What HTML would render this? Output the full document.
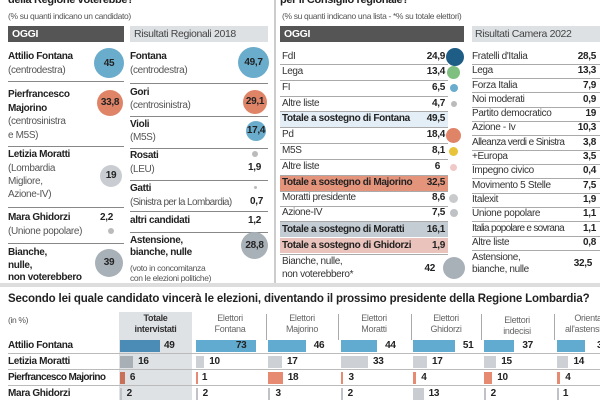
<!DOCTYPE html><html><head><meta charset="utf-8"><style>
*{margin:0;padding:0;box-sizing:border-box}
body{width:600px;height:400px;background:#fff;position:relative;overflow:hidden;font-family:"Liberation Sans",sans-serif;color:#333}
div{position:absolute;white-space:nowrap}
.t{font-size:10px;line-height:12px;letter-spacing:-0.35px}
.b{font-weight:bold;color:#222}
.g{color:#555}
.l{height:1px;background:#888}
.c{border-radius:50%}
.n{font-size:10px;font-weight:bold;color:#222;line-height:12px;letter-spacing:-0.3px}
.hl{font-size:9px;color:#666;text-align:center;line-height:11px;letter-spacing:-0.3px}
.rl{height:1px;background:#aaa}
</style></head><body>
<div class="t b" style="left:8px;top:-6px;font-size:11px">della Regione voterebbe?</div>
<div class="t g" style="left:8px;top:10px;font-size:8.5px">(% su quanti indicano un candidato)</div>
<div class="t b" style="left:280px;top:-6px;font-size:11px">per il Consiglio regionale?</div>
<div class="t g" style="left:282px;top:10px;font-size:8.5px">(% su quanti indicano una lista - *% su totale elettori)</div>
<div style="left:274px;top:0;width:2px;height:285px;background:#ccc"></div>
<div style="left:0;top:283px;width:600px;height:4px;background:#ddd"></div>

<div style="left:8px;top:26px;width:116px;height:16px;background:#555"></div>
<div class="t b" style="left:12px;top:28px;color:#fff;font-size:10.5px">OGGI</div>
<div style="left:130px;top:26px;width:138px;height:16px;background:#dde1e4"></div>
<div class="t" style="left:134px;top:28px;font-size:10.5px;color:#444">Risultati Regionali 2018</div>

<div class="t b" style="left:8px;top:51px">Attilio Fontana</div>
<div class="t g" style="left:8px;top:65px">(centrodestra)</div>
<div class="c" style="left:94px;top:48px;width:30px;height:30px;background:#6aaccc"></div>
<div class="n" style="left:94px;top:58px;width:30px;text-align:center">45</div>
<div class="l" style="left:8px;top:81px;width:116px"></div>
<div class="t b" style="left:8px;top:89px">Pierfrancesco</div>
<div class="t b" style="left:8px;top:103px">Majorino</div>
<div class="t g" style="left:8px;top:116px">(centrosinistra</div>
<div class="t g" style="left:8px;top:130px">e M5S)</div>
<div class="c" style="left:97px;top:90px;width:26px;height:26px;background:#e08468"></div>
<div class="n" style="left:97px;top:97px;width:26px;text-align:center">33,8</div>
<div class="l" style="left:8px;top:146px;width:116px"></div>
<div class="t b" style="left:8px;top:149px">Letizia Moratti</div>
<div class="t g" style="left:8px;top:163px">(Lombardia</div>
<div class="t g" style="left:8px;top:176px">Migliore,</div>
<div class="t g" style="left:8px;top:189px">Azione-IV)</div>
<div class="c" style="left:100px;top:165px;width:22px;height:22px;background:#c9cdd1"></div>
<div class="n" style="left:100px;top:170px;width:22px;text-align:center">19</div>
<div class="l" style="left:8px;top:207px;width:116px"></div>
<div class="t b" style="left:8px;top:212px">Mara Ghidorzi</div>
<div class="t g" style="left:8px;top:226px">(Unione popolare)</div>
<div class="n" style="left:100px;top:212px">2,2</div>
<div class="c" style="left:108px;top:228px;width:6px;height:6px;background:#bbb"></div>
<div class="l" style="left:8px;top:243px;width:116px"></div>
<div class="t b" style="left:8px;top:247px">Bianche,</div>
<div class="t b" style="left:8px;top:260px">nulle,</div>
<div class="t b" style="left:8px;top:272px">non voterebbero</div>
<div class="c" style="left:95px;top:249px;width:28px;height:28px;background:#a8b0b8"></div>
<div class="n" style="left:95px;top:257px;width:28px;text-align:center">39</div>

<div class="t b" style="left:130px;top:51px">Fontana</div>
<div class="t g" style="left:130px;top:65px">(centrodestra)</div>
<div class="c" style="left:238px;top:47px;width:31px;height:31px;background:#6aaccc"></div>
<div class="n" style="left:238px;top:57px;width:31px;text-align:center">49,7</div>
<div class="l" style="left:130px;top:83px;width:138px"></div>
<div class="t b" style="left:130px;top:87px">Gori</div>
<div class="t g" style="left:130px;top:100px">(centrosinistra)</div>
<div class="c" style="left:243px;top:90px;width:24px;height:24px;background:#e08468"></div>
<div class="n" style="left:243px;top:96px;width:24px;text-align:center">29,1</div>
<div class="l" style="left:130px;top:116px;width:138px"></div>
<div class="t b" style="left:130px;top:119px">Violi</div>
<div class="t g" style="left:130px;top:132px">(M5S)</div>
<div class="c" style="left:246px;top:121px;width:20px;height:20px;background:#6aaccc"></div>
<div class="n" style="left:244px;top:125px;width:24px;text-align:center">17,4</div>
<div class="l" style="left:130px;top:148px;width:138px"></div>
<div class="t b" style="left:130px;top:150px">Rosati</div>
<div class="t g" style="left:130px;top:164px">(LEU)</div>
<div class="c" style="left:252px;top:151px;width:6px;height:6px;background:#bbb"></div>
<div class="n" style="left:248px;top:162px">1,9</div>
<div class="l" style="left:130px;top:180px;width:138px"></div>
<div class="t b" style="left:130px;top:183px">Gatti</div>
<div class="t g" style="left:130px;top:197px;letter-spacing:-0.6px">(Sinistra per la Lombardia)</div>
<div class="c" style="left:254px;top:186px;width:3px;height:3px;background:#bbb"></div>
<div class="n" style="left:250px;top:196px">0,7</div>
<div class="l" style="left:130px;top:211px;width:138px"></div>
<div class="t b" style="left:130px;top:215px">altri candidati</div>
<div class="n" style="left:248px;top:215px">1,2</div>
<div class="l" style="left:130px;top:232px;width:138px"></div>
<div class="t b" style="left:130px;top:235px">Astensione,</div>
<div class="t b" style="left:130px;top:247px">bianche, nulle</div>
<div class="t g" style="left:130px;top:262px;font-size:8.5px">(voto in concomitanza</div>
<div class="t g" style="left:130px;top:272px;font-size:8.5px">con le elezioni politiche)</div>
<div class="c" style="left:241px;top:232px;width:27px;height:27px;background:#a8b0b8"></div>
<div class="n" style="left:241px;top:240px;width:27px;text-align:center">28,8</div>

<div style="left:280px;top:26px;width:184px;height:16px;background:#555"></div>
<div class="t b" style="left:284px;top:28px;color:#fff;font-size:10.5px">OGGI</div>
<div style="left:472px;top:26px;width:128px;height:16px;background:#dde1e4"></div>
<div class="t" style="left:475px;top:28px;font-size:10.5px;color:#444">Risultati Camera 2022</div>

<div style="left:280px;top:112px;width:168px;height:15px;background:#e3eef6"></div>
<div style="left:280px;top:176px;width:168px;height:15px;background:#e5947c"></div>
<div style="left:280px;top:222px;width:168px;height:15px;background:#c4cdd4"></div>
<div style="left:280px;top:238px;width:168px;height:15px;background:#e9c3bc"></div>
<div class="t" style="left:282px;top:51px">FdI</div><div class="n" style="left:410px;top:51px;width:35px;text-align:right">24,9</div>
<div class="t" style="left:282px;top:66px">Lega</div><div class="n" style="left:410px;top:66px;width:35px;text-align:right">13,4</div>
<div class="t" style="left:282px;top:82px">FI</div><div class="n" style="left:410px;top:82px;width:35px;text-align:right">6,5</div>
<div class="t" style="left:282px;top:98px">Altre liste</div><div class="n" style="left:410px;top:98px;width:35px;text-align:right">4,7</div>
<div class="t b" style="left:282px;top:113px">Totale a sostegno di Fontana</div><div class="n" style="left:410px;top:113px;width:35px;text-align:right">49,5</div>
<div class="t" style="left:282px;top:129px">Pd</div><div class="n" style="left:410px;top:129px;width:35px;text-align:right">18,4</div>
<div class="t" style="left:282px;top:145px">M5S</div><div class="n" style="left:410px;top:145px;width:35px;text-align:right">8,1</div>
<div class="t" style="left:282px;top:161px">Altre liste</div><div class="n" style="left:410px;top:161px;width:30px;text-align:right">6</div>
<div class="t b" style="left:282px;top:177px">Totale a sostegno di Majorino</div><div class="n" style="left:410px;top:177px;width:35px;text-align:right">32,5</div>
<div class="t" style="left:282px;top:192px">Moratti presidente</div><div class="n" style="left:410px;top:192px;width:35px;text-align:right">8,6</div>
<div class="t" style="left:282px;top:207px">Azione-IV</div><div class="n" style="left:410px;top:207px;width:35px;text-align:right">7,5</div>
<div class="t b" style="left:282px;top:224px">Totale a sostegno di Moratti</div><div class="n" style="left:410px;top:224px;width:35px;text-align:right">16,1</div>
<div class="t b" style="left:282px;top:240px">Totale a sostegno di Ghidorzi</div><div class="n" style="left:410px;top:240px;width:35px;text-align:right">1,9</div>
<div class="t" style="left:282px;top:256px">Bianche, nulle,</div>
<div class="t" style="left:282px;top:269px">non voterebbero*</div>
<div class="n" style="left:400px;top:263px;width:35px;text-align:right">42</div>
<div class="rl" style="left:280px;top:64px;width:168px"></div>
<div class="rl" style="left:280px;top:80px;width:168px"></div>
<div class="rl" style="left:280px;top:96px;width:168px"></div>
<div class="rl" style="left:280px;top:111px;width:168px"></div>
<div class="rl" style="left:280px;top:127px;width:168px"></div>
<div class="rl" style="left:280px;top:143px;width:168px"></div>
<div class="rl" style="left:280px;top:159px;width:168px"></div>
<div class="rl" style="left:280px;top:175px;width:168px"></div>
<div class="rl" style="left:280px;top:191px;width:168px"></div>
<div class="rl" style="left:280px;top:206px;width:168px"></div>
<div class="rl" style="left:280px;top:221px;width:168px"></div>
<div class="rl" style="left:280px;top:254px;width:168px"></div>
<div class="c" style="left:446px;top:48px;width:18px;height:18px;background:#1e5d86"></div>
<div class="c" style="left:447px;top:66px;width:13px;height:13px;background:#7fbf7f"></div>
<div class="c" style="left:450px;top:84px;width:8px;height:8px;background:#6aaccc"></div>
<div class="c" style="left:451px;top:101px;width:6px;height:6px;background:#bbb"></div>
<div class="c" style="left:446px;top:128px;width:15px;height:15px;background:#e08468"></div>
<div class="c" style="left:449px;top:147px;width:9px;height:9px;background:#e7c43a"></div>
<div class="c" style="left:450px;top:164px;width:7px;height:7px;background:#f0c8c8"></div>
<div class="c" style="left:449px;top:194px;width:9px;height:9px;background:#c8cacc"></div>
<div class="c" style="left:450px;top:209px;width:8px;height:8px;background:#bfc2c5"></div>
<div class="c" style="left:443px;top:257px;width:22px;height:22px;background:#a8b0b8"></div>

<div class="t" style="left:472px;top:51px">Fratelli d'Italia</div><div class="n" style="left:560px;top:51px;width:36px;text-align:right">28,5</div>
<div class="t" style="left:472px;top:65px">Lega</div><div class="n" style="left:560px;top:65px;width:36px;text-align:right">13,3</div>
<div class="t" style="left:472px;top:80px">Forza Italia</div><div class="n" style="left:560px;top:80px;width:36px;text-align:right">7,9</div>
<div class="t" style="left:472px;top:94px">Noi moderati</div><div class="n" style="left:560px;top:94px;width:36px;text-align:right">0,9</div>
<div class="t" style="left:472px;top:108px">Partito democratico</div><div class="n" style="left:560px;top:108px;width:36px;text-align:right">19</div>
<div class="t" style="left:472px;top:122px">Azione - Iv</div><div class="n" style="left:560px;top:122px;width:36px;text-align:right">10,3</div>
<div class="t" style="left:472px;top:137px;letter-spacing:-0.6px">Alleanza verdi e Sinistra</div><div class="n" style="left:560px;top:137px;width:36px;text-align:right">3,8</div>
<div class="t" style="left:472px;top:151px">+Europa</div><div class="n" style="left:560px;top:151px;width:36px;text-align:right">3,5</div>
<div class="t" style="left:472px;top:165px">Impegno civico</div><div class="n" style="left:560px;top:165px;width:36px;text-align:right">0,4</div>
<div class="t" style="left:472px;top:180px">Movimento 5 Stelle</div><div class="n" style="left:560px;top:180px;width:36px;text-align:right">7,5</div>
<div class="t" style="left:472px;top:194px">Italexit</div><div class="n" style="left:560px;top:194px;width:36px;text-align:right">1,9</div>
<div class="t" style="left:472px;top:208px">Unione popolare</div><div class="n" style="left:560px;top:208px;width:36px;text-align:right">1,1</div>
<div class="t" style="left:472px;top:223px;letter-spacing:-0.7px">Italia popolare e sovrana</div><div class="n" style="left:560px;top:223px;width:36px;text-align:right">1,1</div>
<div class="t" style="left:472px;top:237px">Altre liste</div><div class="n" style="left:560px;top:237px;width:36px;text-align:right">0,8</div>
<div class="t" style="left:472px;top:252px">Astensione,</div>
<div class="t" style="left:472px;top:264px">bianche, nulle</div>
<div class="n" style="left:556px;top:258px;width:36px;text-align:right">32,5</div>
<div class="rl" style="left:472px;top:64px;width:128px"></div>
<div class="rl" style="left:472px;top:78px;width:128px"></div>
<div class="rl" style="left:472px;top:92px;width:128px"></div>
<div class="rl" style="left:472px;top:107px;width:128px"></div>
<div class="rl" style="left:472px;top:121px;width:128px"></div>
<div class="rl" style="left:472px;top:135px;width:128px"></div>
<div class="rl" style="left:472px;top:150px;width:128px"></div>
<div class="rl" style="left:472px;top:164px;width:128px"></div>
<div class="rl" style="left:472px;top:178px;width:128px"></div>
<div class="rl" style="left:472px;top:193px;width:128px"></div>
<div class="rl" style="left:472px;top:207px;width:128px"></div>
<div class="rl" style="left:472px;top:221px;width:128px"></div>
<div class="rl" style="left:472px;top:236px;width:128px"></div>
<div class="rl" style="left:472px;top:250px;width:128px"></div>

<div class="b" style="left:8px;top:292px;font-size:11.5px;line-height:14px;letter-spacing:-0.15px">Secondo lei quale candidato vincerà le elezioni, diventando il prossimo presidente della Regione Lombardia?</div>
<div class="t g" style="left:8px;top:314px;font-size:8.5px">(in %)</div>
<div style="left:119px;top:312px;width:73px;height:88px;background:#dfe2e5"></div>
<div class="hl b" style="left:119px;top:313px;width:73px;color:#333">Totale<br>intervistati</div>
<div class="hl" style="left:194px;top:313px;width:72px">Elettori<br>Fontana</div>
<div class="hl" style="left:266px;top:313px;width:72px">Elettori<br>Majorino</div>
<div class="hl" style="left:338px;top:313px;width:72px">Elettori<br>Moratti</div>
<div class="hl" style="left:411px;top:313px;width:70px">Elettori<br>Ghidorzi</div>
<div class="hl" style="left:481px;top:315px;width:72px">Elettori<br>indecisi</div>
<div class="hl" style="left:554px;top:313px;width:72px">Orientati<br>all'astensione</div>
<div style="left:266px;top:314px;width:1px;height:26px;background:#aaa"></div>
<div style="left:338px;top:314px;width:1px;height:26px;background:#aaa"></div>
<div style="left:411px;top:314px;width:1px;height:26px;background:#aaa"></div>
<div style="left:481px;top:314px;width:1px;height:26px;background:#aaa"></div>
<div style="left:554px;top:314px;width:1px;height:26px;background:#aaa"></div>
<div class="t b" style="left:8px;top:340px">Attilio Fontana</div>
<div class="t b" style="left:8px;top:356px">Letizia Moratti</div>
<div class="t b" style="left:8px;top:372px;letter-spacing:-0.6px">Pierfrancesco Majorino</div>
<div class="t b" style="left:8px;top:388px">Mara Ghidorzi</div>
<div class="l" style="left:8px;top:353px;width:592px;background:#bbb"></div>
<div class="l" style="left:8px;top:369px;width:592px;background:#bbb"></div>
<div class="l" style="left:8px;top:385px;width:592px;background:#bbb"></div>
<div id="bars"></div>
<script>
var cols=[120,196,268,341,413,484,557];
var data=[[49,73,46,44,51,37,34],[16,10,17,33,17,15,14],[6,1,18,3,4,10,4],[2,2,3,2,13,2,1]];
var colors=[["#4a8cb5","#62abd0"],["#a9b0b5","#cdd1d5"],["#c9705a","#e68a72"],["#c2c6ca","#c9cdd1"]];
var h="";
for(var r=0;r<4;r++)for(var c=0;c<7;c++){
 var v=data[r][c],w=v*0.82,x=cols[c],y=340+r*16;
 var col=(c==0?colors[r][0]:colors[r][1]);
 if(r==3&&c!=4)col="#bfc3c7";
 h+='<div style="left:'+x+'px;top:'+y+'px;width:'+Math.max(w,1.5)+'px;height:12px;background:'+col+'"></div>';
 var nx=(r==0)?(c==6?x+40:x+Math.min(w,60)-(c==1?20:-8)):x+w+5;
 if(r==0&&c==0)nx=x+44;
 h+='<div class="n" style="left:'+nx+'px;top:'+y+'px">'+v+'</div>';
}
document.getElementById("bars").outerHTML=h;
</script>
</body></html>
